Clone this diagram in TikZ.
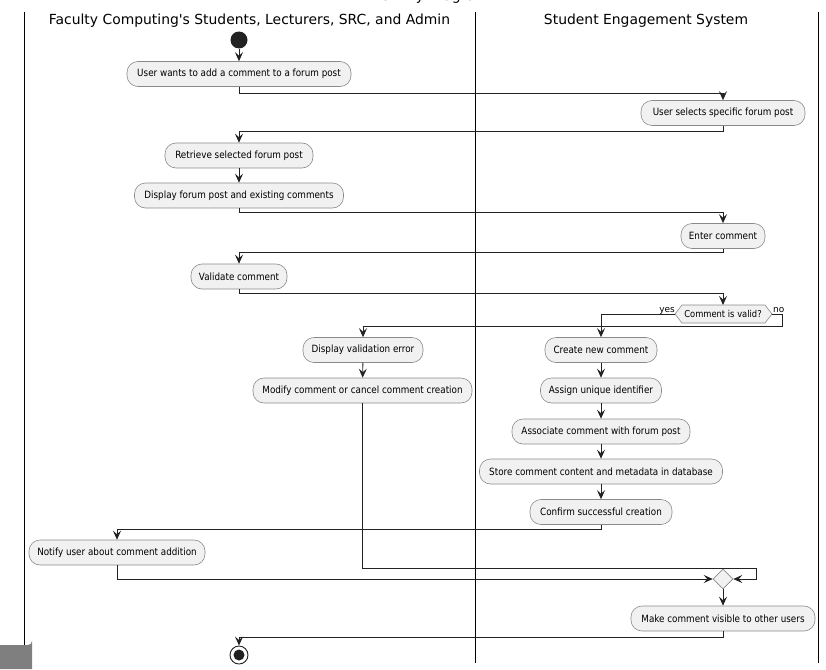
\documentclass[tikz,border=0pt]{standalone}
\usepackage{fontspec}
\usetikzlibrary{arrows.meta,shapes.geometric}
\newfontfamily\actfont[FakeStretch=0.88]{DejaVu Sans}
\newfontfamily\hdrfont{DejaVu Sans}
\definecolor{boxfill}{HTML}{F1F1F1}
\definecolor{boxborder}{HTML}{8A8A8A}
\definecolor{linecol}{HTML}{222222}
\definecolor{cornergray}{HTML}{7F7F7F}
\tikzset{
  act/.style={draw=boxborder, fill=boxfill, rounded corners=11pt, line width=0.6pt,
    inner sep=0pt, minimum height=25pt, font=\actfont\fontsize{10}{12}\selectfont},
  conn/.style={draw=linecol, line width=0.9pt},
  arr/.style={conn, -{Stealth[length=9pt,width=8pt,inset=3.5pt]}},
  lane/.style={draw=black, line width=1pt},
  hdr/.style={anchor=base, inner sep=0pt, font=\hdrfont\fontsize{13.9}{16}\selectfont},
  lab/.style={inner sep=0pt, font=\hdrfont\fontsize{9}{11}\selectfont},
  mergebox/.style={diamond, draw=boxborder, fill=boxfill, line width=0.6pt,
    minimum width=20pt, minimum height=20pt, inner sep=0pt}
}
\begin{document}
\begin{tikzpicture}[x=1pt,y=-1pt]
\useasboundingbox (0,0) rectangle (826,669);
% title fragment (cut off at the top, as in the reference)
\begin{scope}
  \clip (0,0) rectangle (826,669);
  \node[anchor=base west, inner sep=0pt, font=\hdrfont\fontsize{14}{16}\selectfont] (title) at (371.6,0.7) {Activity Diagram};
\end{scope}
% swimlanes
\draw[lane] (24,12) coordinate (l1t) -- (24,669) coordinate (l1b);
\draw[lane] (475,12) coordinate (l2t) -- (475,663) coordinate (l2b);
\draw[lane] (818,12) coordinate (l3t) -- (818,663) coordinate (l3b);
\node[hdr] (h1) at (249.5,25) {Faculty Computing\textquotesingle s Students, Lecturers, SRC, and Admin};
\node[hdr] (h2) at (646,25) {Student Engagement System};
% start
\node[circle, fill=linecol, minimum size=17pt, inner sep=0pt] (start) at (239,40) {};
% activities
\node[act, minimum width=224pt] (b1) at (239,74) {User wants to add a comment to a forum post};
\node[act, minimum width=164pt] (b2) at (723,113) {User selects specific forum post};
\node[act, minimum width=148pt] (b3) at (239,155.5) {Retrieve selected forum post};
\node[act, minimum width=209pt] (b4) at (239,195.5) {Display forum post and existing comments};
\node[act, minimum width=84pt] (b5) at (723,236) {Enter comment};
\node[act, minimum width=96pt] (b6) at (239,276.5) {Validate comment};
% decision
\coordinate (dl) at (675,314);
\coordinate (dr) at (772,314);
\fill[boxfill] (dl) -- (682,305) -- (765,305) -- (dr) -- (765,323) -- (682,323) -- cycle;
\draw[draw=boxborder, line width=0.6pt] (dl) -- (682,305) -- (765,305) -- (dr) -- (765,323) -- (682,323) -- cycle;
\node[inner sep=0pt, font=\actfont\fontsize{9.5}{11}\selectfont] (dec) at (723,314) {Comment is valid?};
\node[lab, anchor=base east] (yes) at (675,312) {yes};
\node[lab, anchor=base west] (no) at (773,312) {no};
\node[act, minimum width=120pt] (err) at (363,350) {Display validation error};
\node[act, minimum width=112pt] (create) at (601,350) {Create new comment};
\node[act, minimum width=219pt] (modify) at (362.5,390.5) {Modify comment or cancel comment creation};
\node[act, minimum width=121pt] (assign) at (601,390.5) {Assign unique identifier};
\node[act, minimum width=178pt] (assoc) at (601,431.5) {Associate comment with forum post};
\node[act, minimum width=243pt] (store) at (601,471.5) {Store comment content and metadata in database};
\node[act, minimum width=142pt] (confirm) at (601,512) {Confirm successful creation};
\node[act, minimum width=176pt] (notify) at (117,552.5) {Notify user about comment addition};
\node[mergebox] (merge) at (723,579) {};
\node[act, minimum width=184pt] (make) at (723,618.5) {Make comment visible to other users};
% end
\node[circle, draw=linecol, fill=white, line width=0.9pt, minimum size=18pt, inner sep=0pt] (end) at (239,655) {};
\node[circle, fill=linecol, minimum size=11pt, inner sep=0pt] (endin) at (239,655) {};
% connectors
\draw[arr] (start) -- (b1);
\draw[arr] (b1.south) -- ++(0,7) -| (b2.north);
\draw[arr] (b2.south) -- ++(0,6) -| (b3.north);
\draw[arr] (b3) -- (b4);
\draw[arr] (b4.south) -- ++(0,4) -| (b5.north);
\draw[arr] (b5.south) -- ++(0,4) -| (b6.north);
\draw[arr] (b6.south) -- ++(0,4) -| (723,305);
\draw[arr] (dl) -| (create.north);
\draw[arr] (dr) -- ++(10,0) -- ++(0,12) -| (err.north);
\draw[arr] (err) -- (modify);
\draw[arr] (create) -- (assign);
\draw[arr] (assign) -- (assoc);
\draw[arr] (assoc) -- (store);
\draw[arr] (store) -- (confirm);
\draw[arr] (confirm.south) -- ++(0,5) -| (notify.north);
\draw[arr] (modify.south) |- ([shift={(23,-11)}]merge.east) |- (merge.east);
\draw[arr] (notify.south) |- (merge.west);
\draw[arr] (merge.south) -- (make.north);
\draw[arr] (make.south) -- ++(0,6) -| (end.north);
% grey corner tab
\fill[cornergray] (0,669) -- (0,645) -- (28,645) arc[start angle=90, end angle=0, radius=4] -- (32,669) -- cycle;
\end{tikzpicture}
\end{document}
